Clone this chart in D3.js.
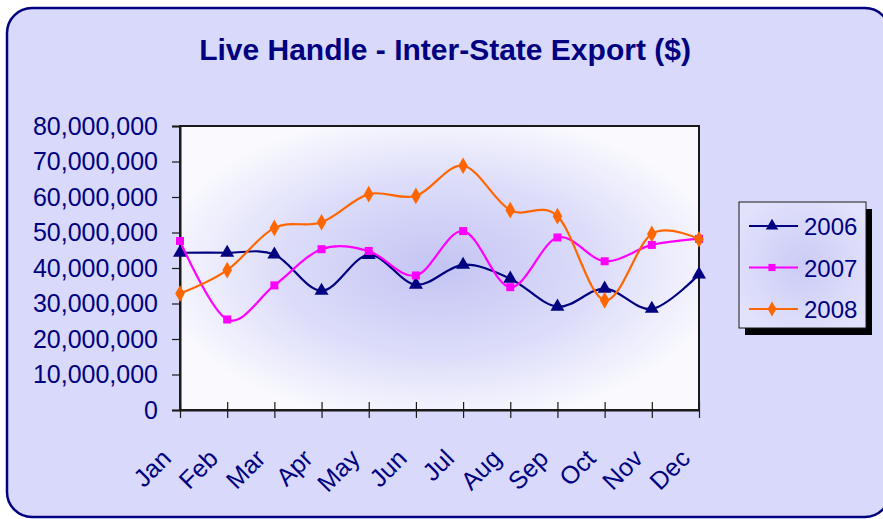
<!DOCTYPE html>
<html>
<head>
<meta charset="utf-8">
<script src="https://cdn.jsdelivr.net/npm/d3@7"></script>
<style>
  body { margin: 0; padding: 0; background: #ffffff; }
  text { font-family: "Liberation Sans", Arial, sans-serif; }
</style>
</head>
<body>
<div id="chart"></div>
<script>
var months = ["Jan", "Feb", "Mar", "Apr", "May", "Jun", "Jul", "Aug", "Sep", "Oct", "Nov", "Dec"];
var years = ["2006", "2007", "2008"];
var values2006 = [44300000, 44300000, 43800000, 33600000, 43700000, 35300000, 40900000, 37000000, 29100000, 34200000, 28500000, 38200000];
var values2007 = [47600000, 25500000, 35100000, 45300000, 44800000, 37900000, 50400000, 34600000, 48600000, 41900000, 46500000, 48200000];
var values2008 = [32800000, 39400000, 51300000, 52900000, 60800000, 60300000, 68800000, 56300000, 54600000, 30900000, 49600000, 48100000];
var yTicks = [0, 10000000, 20000000, 30000000, 40000000, 50000000, 60000000, 70000000, 80000000];

var seriesList = [
    {name: years[0], values: values2006, color: "#000080", marker: d3.symbolTriangle, size: 85},
    {name: years[1], values: values2007, color: "#ff00ff", marker: d3.symbolSquare, size: 64},
    {name: years[2], values: values2008, color: "#ff6600", marker: d3.symbolDiamond, size: 80}
];

var width = 883, height = 519;
var plot = {left: 180, top: 126, right: 699, bottom: 410};
var navy = "#000080";

var svg = d3.select("#chart")
    .append("svg")
    .attr("width", width)
    .attr("height", height);

var defs = svg.append("defs");

// soft "from centre" shading of the plot and legend
var plotGrad = defs.append("radialGradient")
    .attr("id", "plotGrad")
    .attr("cx", "0.5").attr("cy", "0.5").attr("r", "0.55");
plotGrad.append("stop").attr("offset", "0%").attr("stop-color", "#c4c4f4");
plotGrad.append("stop").attr("offset", "55%").attr("stop-color", "#dcdcfa");
plotGrad.append("stop").attr("offset", "100%").attr("stop-color", "#f9f9fe");

var legGrad = defs.append("radialGradient")
    .attr("id", "legGrad")
    .attr("cx", "0.5").attr("cy", "0.5").attr("r", "0.6");
legGrad.append("stop").attr("offset", "0%").attr("stop-color", "#cbcbf6");
legGrad.append("stop").attr("offset", "100%").attr("stop-color", "#e2e2fc");

// chart area
svg.append("rect")
    .attr("x", 7)
    .attr("y", 8)
    .attr("width", 883)
    .attr("height", 509)
    .attr("rx", 25)
    .attr("fill", "#d9d9fb")
    .attr("stroke", navy)
    .attr("stroke-width", 2.5);

svg.append("text")
    .attr("x", 445)
    .attr("y", 60)
    .attr("text-anchor", "middle")
    .attr("font-size", 30)
    .attr("font-weight", "bold")
    .attr("fill", navy)
    .text("Live Handle - Inter-State Export ($)");

var x = d3.scalePoint()
    .domain(months)
    .range([plot.left, plot.right]);

var y = d3.scaleLinear()
    .domain([0, 80000000])
    .range([plot.bottom, plot.top]);

// plot area
svg.append("rect")
    .attr("x", plot.left)
    .attr("y", plot.top)
    .attr("width", plot.right - plot.left)
    .attr("height", plot.bottom - plot.top)
    .attr("fill", "url(#plotGrad)")
    .attr("stroke", "#1a1a1a")
    .attr("stroke-width", 2);

// y axis
var yAxis = svg.append("g")
    .attr("transform", "translate(" + plot.left + ",0)")
    .call(d3.axisLeft(y).tickValues(yTicks).tickSize(8).tickPadding(14)
        .tickFormat(d3.format(",")));
yAxis.select(".domain").attr("stroke", "#1a1a1a").attr("stroke-width", 2);
yAxis.selectAll(".tick line").attr("stroke", "#1a1a1a").attr("stroke-width", 1.2);
yAxis.selectAll(".tick text")
    .attr("font-size", 25)
    .attr("font-family", "Liberation Sans, Arial, sans-serif")
    .attr("fill", navy);

// x axis, ticks cross the line
var xAxis = svg.append("g")
    .attr("transform", "translate(0," + plot.bottom + ")")
    .call(d3.axisBottom(x).tickSizeInner(8).tickSizeOuter(0));
xAxis.select(".domain").attr("stroke", "#1a1a1a").attr("stroke-width", 2);
xAxis.selectAll(".tick line")
    .attr("y1", -8)
    .attr("y2", 8)
    .attr("stroke", "#1a1a1a")
    .attr("stroke-width", 1.2);
xAxis.selectAll(".tick text")
    .attr("font-size", 25)
    .attr("font-family", "Liberation Sans, Arial, sans-serif")
    .attr("fill", navy)
    .attr("text-anchor", "end")
    .attr("dy", 0)
    .attr("y", 0)
    .attr("transform", "translate(-8,50) rotate(-45)");

// series lines and markers
var line = d3.line()
    .x(function(d, i) { return x(months[i]); })
    .y(function(d) { return y(d); })
    .curve(d3.curveCardinal.tension(0));

seriesList.forEach(function(s) {
    svg.append("path")
        .attr("d", line(s.values))
        .attr("fill", "none")
        .attr("stroke", s.color)
        .attr("stroke-width", 2.2);

    svg.selectAll(null)
        .data(s.values)
        .enter()
        .append("path")
        .attr("d", d3.symbol().type(s.marker).size(s.size))
        .attr("transform", function(d, i) {
            return "translate(" + x(months[i]) + "," + y(d) + ")";
        })
        .attr("fill", s.color);
});

// legend with drop shadow
var legend = {x: 739, y: 202, w: 127, h: 126};
svg.append("rect")
    .attr("x", legend.x + 6)
    .attr("y", legend.y + 7)
    .attr("width", legend.w)
    .attr("height", legend.h)
    .attr("fill", "#000000");
svg.append("rect")
    .attr("x", legend.x)
    .attr("y", legend.y)
    .attr("width", legend.w)
    .attr("height", legend.h)
    .attr("fill", "url(#legGrad)")
    .attr("stroke", "#1a1a1a")
    .attr("stroke-width", 1);

seriesList.forEach(function(s, i) {
    var ly = 226 + i * 41.5;
    svg.append("line")
        .attr("x1", 749)
        .attr("x2", 798)
        .attr("y1", ly)
        .attr("y2", ly)
        .attr("stroke", s.color)
        .attr("stroke-width", 2);
    svg.append("path")
        .attr("d", d3.symbol().type(s.marker).size(s.size * 0.8))
        .attr("transform", "translate(772," + ly + ")")
        .attr("fill", s.color);
    svg.append("text")
        .attr("x", 804)
        .attr("y", ly + 9)
        .attr("font-size", 24)
        .attr("fill", navy)
        .text(s.name);
});
</script>
</body>
</html>
